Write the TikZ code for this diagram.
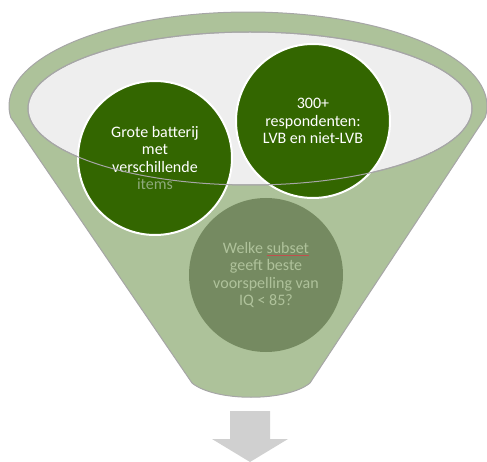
\documentclass[tikz,border=0pt]{standalone}
\usepackage{fontspec}
\setmainfont{Carlito}
\definecolor{funnelgreen}{HTML}{ADC29A}
\definecolor{rimgray}{HTML}{A6A6A6}
\definecolor{innergray}{HTML}{EEEEEE}
\definecolor{darkgreen}{HTML}{336600}
\definecolor{midgreen}{HTML}{758A61}
\definecolor{paletext}{HTML}{AFC29B}
\definecolor{itemstext}{HTML}{8EAA7C}
\definecolor{arrowgray}{HTML}{D0D0D0}
\definecolor{spellred}{HTML}{C0504D}
\tikzset{
  bubble/.style={circle, minimum size=154pt, inner sep=0pt, align=center,
    font=\fontsize{16}{17.3}\selectfont},
  topbubble/.style={bubble, fill=darkgreen, draw=white, line width=2pt, text=white},
  lowbubble/.style={bubble, fill=midgreen, text=paletext},
  rim/.style={draw=rimgray, line width=1pt}
}
\begin{document}
\begin{tikzpicture}[x=1pt,y=-1pt]
\useasboundingbox (0,0) rectangle (487,462);
% funnel body
\draw[rim, fill=funnelgreen] (10.8,117.5) -- (192,383) .. controls (215,402) and (287,402) .. (310,383)
  -- plot[domain=-7:187, samples=90, smooth] ({248+239*cos(\x)},{106-94*sin(\x)}) -- cycle;
% inner opening
\draw[rim, fill=innergray] (250,108.5) ellipse [x radius=222, y radius=76.5];
% circles
\node[lowbubble] (q) at (266,275) {Welke {\color{spellred}\setlength{\fboxrule}{0pt}$\underline{\hbox{\color{paletext}subset}}$}\\geeft beste\\voorspelling van\\IQ < 85?};
\node[topbubble] (a) at (155,158) {Grote batterij\\met\\verschillende\\{\color{itemstext}items}};
\node[topbubble] (b) at (313,121) {300+\\respondenten:\\LVB en niet-LVB};
% opening outline over circles
\draw[rim] (250,108.5) ellipse [x radius=222, y radius=76.5];
% arrow
\fill[arrowgray] (230,411) -- (270,411) -- (270,439) -- (288,439) -- (250,462) -- (212,439) -- (230,439) -- cycle;
\end{tikzpicture}
\end{document}
